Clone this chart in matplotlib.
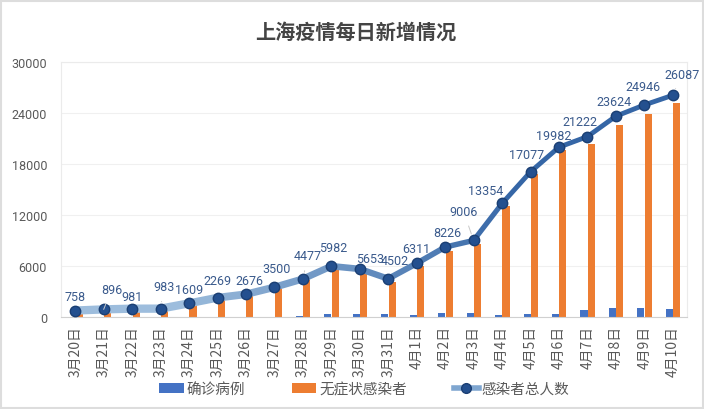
import numpy as np
import matplotlib.pyplot as plt
from matplotlib.collections import LineCollection
from matplotlib.lines import Line2D
from matplotlib.patches import Patch, Rectangle

plt.rcParams['font.family'] = ['Noto Sans CJK SC', 'DejaVu Sans']

dates = ["3月20日", "3月21日", "3月22日", "3月23日", "3月24日", "3月25日", "3月26日",
         "3月27日", "3月28日", "3月29日", "3月30日", "3月31日", "4月1日", "4月2日",
         "4月3日", "4月4日", "4月5日", "4月6日", "4月7日", "4月8日", "4月9日", "4月10日"]
confirmed = [24, 31, 4, 4, 29, 38, 45, 50, 96, 326, 355, 358, 260, 438,
             425, 268, 311, 322, 824, 1015, 1006, 914]
asymptomatic = [734, 865, 977, 979, 1580, 2231, 2631, 3450, 4381, 5656, 5298, 4144, 6051, 7788,
                8581, 13086, 16766, 19660, 20398, 22609, 23937, 25173]
total = [758, 896, 981, 983, 1609, 2269, 2676, 3500, 4477, 5982, 5653, 4502, 6311, 8226,
         9006, 13354, 17077, 19982, 21222, 23624, 24946, 26087]
yticks = [0, 6000, 12000, 18000, 24000, 30000]

# label offsets in pixels (dx, dy), hand tuned from the picture
label_off = [(0, 14), (8, 20), (0, 12), (3, 22), (0, 14), (0, 17), (3, 14), (2, 19), (5, 23),
             (2, 19), (10, 10), (7, 18), (0, 15), (2, 15), (-10, 29), (-16, 13), (-4, 17),
             (-5, 12), (-7, 15), (-2, 15), (-1, 18), (9, 21)]
# points whose label has a thin leader line
leader = {1, 3, 8, 14, 21}

fig = plt.figure(figsize=(7.04, 4.10), dpi=100)
ax = fig.add_axes([61 / 704, 92 / 410, 626 / 704, 255 / 410])

x = np.arange(len(dates))
w = 0.25
ax.bar(x - 0.12, confirmed, w, color='#4472C4', zorder=2)
ax.bar(x + 0.14, asymptomatic, w, color='#ED7D31', zorder=2)

# line with gradient light -> dark blue
pts = np.column_stack([x, total]).reshape(-1, 1, 2)
segs = np.concatenate([pts[:-1], pts[1:]], axis=1)
c1 = np.array([0x9D, 0xBD, 0xDD]) / 255
c2 = np.array([0x35, 0x66, 0xA6]) / 255
t = np.clip((np.arange(len(segs)) - 3) / 12, 0, 1)
cols = [tuple(c1 * (1 - v) + c2 * v) for v in t]
lws = [6 - 2.5 * v for v in t]
lc = LineCollection(segs, colors=cols, linewidths=lws, capstyle='round', joinstyle='round', zorder=3)
ax.add_collection(lc)
ax.plot(x, total, linestyle='none', marker='o', markersize=7.5,
        markerfacecolor='#24508F', markeredgecolor='#1B3F73', zorder=4)

for i, v in enumerate(total):
    dx, dy = label_off[i]
    arrow = None
    if i in leader:
        arrow = dict(arrowstyle='-', color='#C8C8C8', linewidth=0.7, shrinkA=4, shrinkB=5)
    ax.annotate(str(v), (x[i], v), xytext=(dx, dy), textcoords='offset pixels',
                ha='center', va='center', fontsize=9, color='#3A5A8C',
                family=['Roboto', 'DejaVu Sans'], zorder=5, arrowprops=arrow)

ax.set_xlim(-0.5, len(dates) - 0.5)
ax.set_ylim(0, 30000)
ax.set_yticks(yticks)
ax.set_yticklabels([str(v) for v in yticks], fontsize=9, color='#595959', family=['Roboto', 'DejaVu Sans'])
ax.set_xticks(x)
ax.set_xticklabels(dates, rotation=90, fontsize=10, color='#595959')
ax.tick_params(axis='y', length=0, pad=10)
ax.tick_params(axis='x', length=0, pad=6)
ax.grid(axis='y', color='#F0F0F0', linewidth=0.8, zorder=0)
for s in ['top', 'right', 'left']:
    ax.spines[s].set_color('#EBEBEB')
ax.spines['bottom'].set_color('#D0D0D0')

fig.text(356 / 704, 1 - 32 / 410, "上海疫情每日新增情况", ha='center', va='center',
         fontsize=14.5, fontweight='bold', color='#444444')

handles = [Patch(facecolor='#4472C4'), Patch(facecolor='#ED7D31'),
           Line2D([], [], color='#7FA6D0', linewidth=4, marker='o', markersize=7,
                  markerfacecolor='#24508F', markeredgecolor='#1B3F73')]
fig.legend(handles, ["确诊病例", "无症状感染者", "感染者总人数"], loc='center',
           bbox_to_anchor=(364 / 704, 1 - 390 / 410), ncol=3, frameon=False,
           fontsize=10.5, labelcolor='#595959', columnspacing=3.2, handlelength=1.7,
           handleheight=0.6, handletextpad=0.2)

fig.patches.append(Rectangle((0.002, 0.003), 0.996, 0.993, transform=fig.transFigure,
                             fill=False, edgecolor='#DDDDDD', linewidth=1.5))

fig.savefig('out.png', dpi=100, facecolor='white')
